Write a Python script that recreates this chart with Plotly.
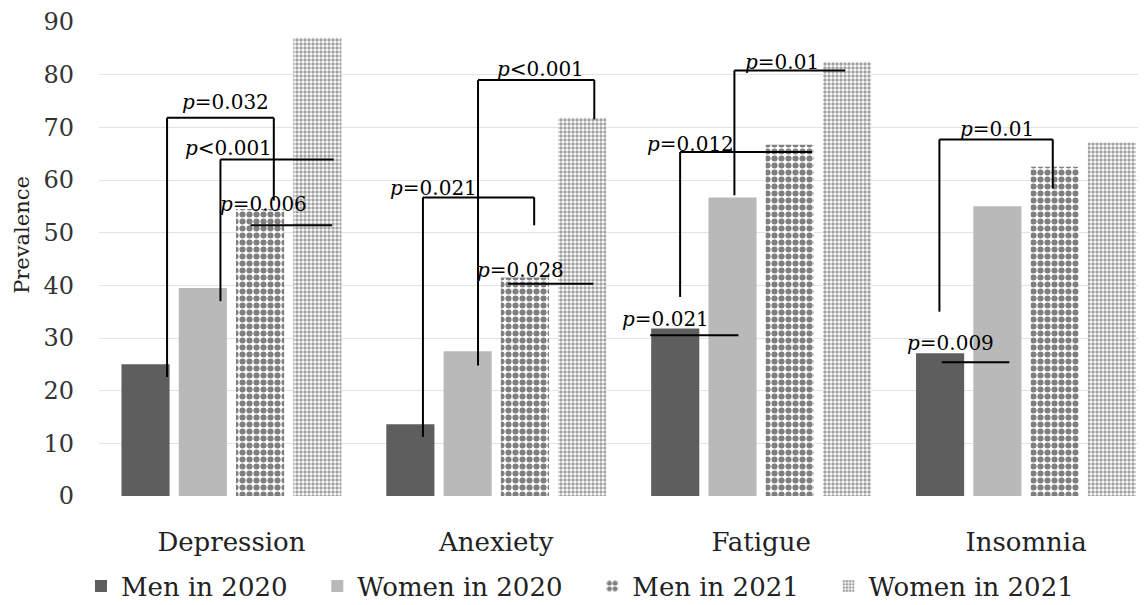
import plotly.graph_objects as go

# ---------------- data ----------------
categories = ["Depression", "Anexiety", "Fatigue", "Insomnia"]
series_names = ["Men in 2020", "Women in 2020", "Men in 2021", "Women in 2021"]
men_2020 = [25.0, 13.6, 31.8, 27.1]
women_2020 = [39.5, 27.5, 56.7, 55.0]
men_2021 = [54.5, 41.5, 66.7, 62.5]
women_2021 = [87.0, 71.8, 82.4, 67.1]
y_ticks = [0, 10, 20, 30, 40, 50, 60, 70, 80, 90]
y_title = "Prevalence"

# significance labels (text) and bracket geometry in axis units (category index, prevalence)
p_labels = ["=0.032", "<0.001", "=0.006", "<0.001", "=0.021", "=0.028",
            "=0.01", "=0.012", "=0.021", "=0.01", "=0.009"]
p_label_pos = [(-0.023, 74.8), (-0.011, 66.0), (0.122, 55.5),
               (1.166, 81.1), (0.762, 58.4), (1.091, 43.0),
               (2.078, 82.4), (1.732, 66.9), (1.638, 33.7),
               (2.889, 69.7), (2.713, 29.0)]
brackets = [
    [(-0.243, 22.6), (-0.243, 71.8), (0.160, 71.8), (0.160, 56.1)],
    [(-0.0415, 37.0), (-0.0415, 63.9), (0.386, 63.9)],
    [(0.072, 51.4), (0.380, 51.4)],
    [(0.931, 24.8), (0.931, 79.0), (1.370, 79.0), (1.370, 71.5)],
    [(0.723, 11.2), (0.723, 56.7), (1.143, 56.7), (1.143, 51.4)],
    [(1.045, 40.3), (1.366, 40.3)],
    [(1.899, 57.1), (1.899, 80.8), (2.317, 80.8)],
    [(1.694, 37.8), (1.694, 65.3), (2.192, 65.3)],
    [(1.581, 30.5), (1.914, 30.5)],
    [(2.673, 35.0), (2.673, 67.7), (3.101, 67.7), (3.101, 58.4)],
    [(2.682, 25.4), (2.937, 25.4)],
]

FONT = "DejaVu Serif"
NBSP = "\u00a0"
legend_pad = [3, 3, 3, 0]  # trailing spacing between legend entries

fig = go.Figure()
values = [men_2020, women_2020, men_2021, women_2021]
styles = [
    dict(color="#5e5e5e"),
    dict(color="#b9b9b9"),
    dict(color="white", pattern=dict(shape=".", fgcolor="black", bgcolor="white",
                                     size=7, solidity=0.6, fillmode="overlay")),
    dict(color="white", pattern=dict(shape=".", fgcolor="#444444", bgcolor="white",
                                     size=4, solidity=0.6, fillmode="overlay")),
]
for name, vals, st, pad in zip(series_names, values, styles, legend_pad):
    fig.add_trace(go.Bar(x=categories, y=vals, name=name + NBSP * pad,
                         marker=dict(line=dict(width=0), **st)))

# brackets
for pts in brackets:
    for (xa, ya), (xb, yb) in zip(pts[:-1], pts[1:]):
        fig.add_shape(type="line", xref="x", yref="y", x0=xa, y0=ya, x1=xb, y1=yb,
                      line=dict(color="black", width=2), layer="above")

for txt, (xp, yp) in zip(p_labels, p_label_pos):
    fig.add_annotation(x=xp, y=yp, xref="x", yref="y", text="<i>p</i>" + txt,
                       showarrow=False, xanchor="center", yanchor="middle",
                       font=dict(family=FONT, size=20, color="black"))

# y-axis title (placed like the reference, above the axis centre)
fig.add_annotation(x=-0.073, y=0.55, xref="paper", yref="paper", text=y_title,
                   textangle=-90, showarrow=False, xanchor="center", yanchor="middle",
                   font=dict(family=FONT, size=21, color="#222222"))

fig.update_layout(
    width=1138, height=597,
    margin=dict(l=90.5, r=0, t=13.5, b=109, autoexpand=False),
    paper_bgcolor="white", plot_bgcolor="white",
    barmode="group", bargap=0.135, bargroupgap=0.16,
    font=dict(family=FONT, color="#222222"),
    showlegend=True,
    legend=dict(orientation="h", x=-0.0172, xanchor="left", y=-0.19, yanchor="middle",
                font=dict(family=FONT, size=26, color="#222222"),
                bgcolor="rgba(0,0,0,0)"),
)
fig.update_xaxes(type="category", range=[-0.5, 3.453], showgrid=False, showline=False,
                 zeroline=False, ticks="", ticklabelstandoff=28,
                 tickfont=dict(family=FONT, size=26, color="#222222"))
fig.update_yaxes(range=[0, 90], tickvals=y_ticks, showgrid=True, gridcolor="#e3e3e3",
                 gridwidth=1, zeroline=False, showline=False, ticks="",
                 ticklabelstandoff=24,
                 tickfont=dict(family=FONT, size=24, color="#333333"))

fig.write_html("out.html")
